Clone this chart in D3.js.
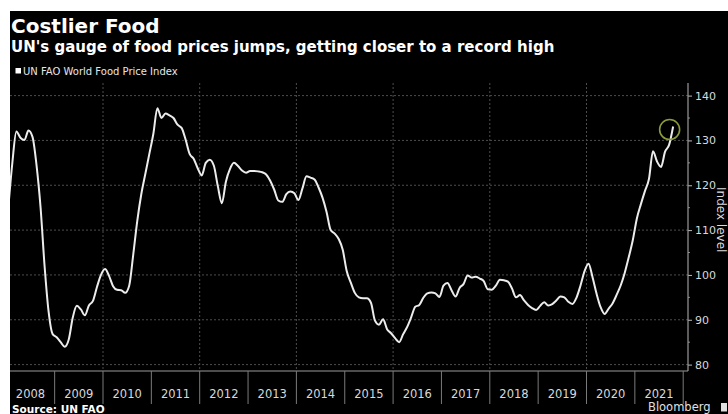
<!DOCTYPE html>
<html>
<head>
<meta charset="utf-8">
<script src="https://cdn.jsdelivr.net/npm/d3@7"></script>
<style>
  html, body { margin: 0; padding: 0; background: #fff; }
  svg { display: block; }
</style>
</head>
<body>
<svg id="chart" width="728" height="414"></svg>
<script>
// FAO Food Price Index, monthly values (2014-2016 = 100)
const fpi2008 = [115.0, 125.0, 132.0, 130.6, 130.1, 132.2, 130.8, 124.5, 115.1, 102.0, 91.8, 86.8];
const fpi2009 = [86.1, 85.0, 84.0, 85.6, 90.5, 93.1, 92.3, 91.0, 93.2, 94.2, 97.3, 100.0];
const fpi2010 = [101.3, 99.8, 97.5, 96.7, 96.6, 96.0, 97.6, 104.5, 112.0, 118.0, 122.5, 127.0];
const fpi2011 = [131.5, 137.2, 135.0, 136.0, 135.6, 135.0, 133.5, 132.8, 130.2, 127.0, 125.9, 123.8];
const fpi2012 = [122.2, 125.0, 125.7, 124.4, 119.8, 116.0, 120.8, 123.6, 125.0, 124.3, 123.3, 122.8];
const fpi2013 = [123.2, 123.2, 123.1, 122.9, 122.4, 121.0, 119.0, 116.6, 116.3, 118.0, 118.6, 118.2];
const fpi2014 = [116.7, 119.3, 122.0, 121.7, 121.3, 119.5, 117.2, 114.0, 110.0, 109.2, 108.0, 105.6];
const fpi2015 = [100.8, 98.3, 96.0, 95.0, 94.8, 94.8, 93.8, 89.8, 88.9, 90.1, 87.9, 87.0];
const fpi2016 = [85.9, 85.0, 86.8, 88.4, 90.6, 92.9, 93.3, 94.9, 95.9, 96.1, 95.9, 95.1];
const fpi2017 = [97.6, 98.2, 96.6, 95.2, 97.1, 98.0, 99.9, 99.4, 99.6, 99.2, 98.6, 96.8];
const fpi2018 = [96.7, 97.6, 98.9, 98.8, 98.5, 97.0, 95.0, 95.5, 94.3, 93.3, 92.6, 92.2];
const fpi2019 = [93.1, 93.9, 93.2, 93.5, 94.3, 95.2, 95.0, 94.0, 93.5, 94.9, 97.6, 100.8];
const fpi2020 = [102.5, 99.5, 95.8, 92.8, 91.3, 92.5, 93.7, 95.6, 97.7, 100.5, 104.0, 107.8];
const fpi2021 = [112.6, 115.8, 118.7, 121.4, 127.6, 125.3, 124.1, 127.5, 129.0, 133.1];

const seriesByYear = [fpi2008, fpi2009, fpi2010, fpi2011, fpi2012, fpi2013, fpi2014,
                      fpi2015, fpi2016, fpi2017, fpi2018, fpi2019, fpi2020, fpi2021];
const firstYear = 2008;

const yearLabels = ['2008', '2009', '2010', '2011', '2012', '2013', '2014',
                    '2015', '2016', '2017', '2018', '2019', '2020', '2021'];
const yTicks = [80, 90, 100, 110, 120, 130, 140];
const yMinorTicks = [85, 95, 105, 115, 125, 135];
const gridYears = [2010, 2012, 2014, 2016, 2018, 2020];

const titleText = 'Costlier Food';
const subtitleText = "UN's gauge of food prices jumps, getting closer to a record high";
const legendText = 'UN FAO World Food Price Index';
const axisTitle = 'Index level';
const sourceText = 'Source: UN FAO';
const brandText = 'Bloomberg';

// monthly points, placed mid-month on a fractional-year axis
const points = [];
seriesByYear.forEach((vals, yi) => {
  vals.forEach((v, m) => points.push({ t: firstYear + yi + (m + 0.5) / 12, v }));
});

const svg = d3.select('#chart');
const W = 728, H = 414;
const panel = { left: 10, top: 11 };
const plot = { left: 10, right: 688, top: 83, bottom: 371 };

const x = d3.scaleLinear().domain([2008, 2022]).range([6.3, 683.2]);
const y = d3.scaleLinear().domain([80, 140]).range([364.6, 95.6]);

const sans = "'DejaVu Sans', Verdana, sans-serif";

// black panel
svg.append('rect')
  .attr('x', panel.left).attr('y', panel.top)
  .attr('width', W - panel.left).attr('height', H - panel.top)
  .attr('fill', '#000');

svg.append('defs').append('clipPath').attr('id', 'plotClip')
  .append('rect')
  .attr('x', plot.left).attr('y', plot.top - 20)
  .attr('width', plot.right - plot.left).attr('height', plot.bottom - plot.top + 20);

// titles
svg.append('text')
  .attr('x', 11).attr('y', 33)
  .attr('fill', '#fff')
  .style('font-family', sans).style('font-weight', 'bold').style('font-size', '20px')
  .text(titleText);

svg.append('text')
  .attr('x', 11).attr('y', 51.5)
  .attr('fill', '#fff')
  .style('font-family', sans).style('font-weight', 'bold').style('font-size', '15px')
  .text(subtitleText);

// legend
svg.append('rect')
  .attr('x', 15.5).attr('y', 68).attr('width', 5.5).attr('height', 5.5)
  .attr('fill', '#fff');
svg.append('text')
  .attr('x', 23).attr('y', 75)
  .attr('fill', '#e6e6e6')
  .style('font-family', sans).style('font-size', '10px')
  .text(legendText);

// horizontal gridlines
svg.append('g').selectAll('line').data(yTicks).join('line')
  .attr('x1', plot.left).attr('x2', plot.right)
  .attr('y1', d => y(d)).attr('y2', d => y(d))
  .attr('stroke', '#4d4d4d').attr('stroke-width', 1)
  .attr('stroke-dasharray', '2,2');

// vertical gridlines every two years
svg.append('g').selectAll('line').data(gridYears).join('line')
  .attr('x1', d => x(d)).attr('x2', d => x(d))
  .attr('y1', plot.top).attr('y2', plot.bottom)
  .attr('stroke', '#4d4d4d').attr('stroke-width', 1)
  .attr('stroke-dasharray', '2,2');

// right value axis
const yAxis = d3.axisRight(y).tickValues(yTicks).tickSize(4).tickPadding(3)
  .tickFormat(d3.format('d'));
const yAxisG = svg.append('g')
  .attr('transform', `translate(${plot.right},0)`)
  .call(yAxis);
yAxisG.select('.domain').remove();
yAxisG.selectAll('.tick line').attr('stroke', '#bbb');
yAxisG.selectAll('.tick text')
  .attr('fill', '#d9d9d9')
  .style('font-family', sans).style('font-size', '11px');

svg.append('g').selectAll('line').data(yMinorTicks).join('line')
  .attr('x1', plot.right).attr('x2', plot.right + 2)
  .attr('y1', d => y(d)).attr('y2', d => y(d))
  .attr('stroke', '#888');

svg.append('line')
  .attr('x1', plot.right).attr('x2', plot.right)
  .attr('y1', plot.top).attr('y2', plot.bottom)
  .attr('stroke', '#9a9a9a').attr('stroke-width', 1.2);

svg.append('text')
  .attr('transform', `translate(716.5,187) rotate(90)`)
  .attr('fill', '#d9d9d9')
  .style('font-family', sans).style('font-size', '12px')
  .text(axisTitle);

// bottom time axis
svg.append('line')
  .attr('x1', plot.left).attr('x2', plot.right)
  .attr('y1', plot.bottom).attr('y2', plot.bottom)
  .attr('stroke', '#9a9a9a').attr('stroke-width', 1.2);

const yearStarts = yearLabels.map(s => +s + 1);
svg.append('g').selectAll('line').data(yearStarts).join('line')
  .attr('x1', d => x(d)).attr('x2', d => x(d))
  .attr('y1', plot.bottom).attr('y2', 404)
  .attr('stroke', '#7a7a7a').attr('stroke-width', 1);

svg.append('g').selectAll('text').data(yearLabels).join('text')
  .attr('x', d => x(+d + 0.5)).attr('y', 397.5)
  .attr('text-anchor', 'middle')
  .attr('fill', '#d9d9d9')
  .style('font-family', sans).style('font-size', '11.5px')
  .text(d => d);

// the index line
const line = d3.line()
  .x(d => x(d.t)).y(d => y(d.v))
  .curve(d3.curveMonotoneX);

svg.append('path')
  .datum(points)
  .attr('clip-path', 'url(#plotClip)')
  .attr('d', line)
  .attr('fill', 'none')
  .attr('stroke', '#ececec')
  .attr('stroke-width', 2)
  .attr('stroke-linejoin', 'round');

// highlight ring around the latest reading
const last = points[points.length - 1];
svg.append('circle')
  .attr('cx', x(last.t) - 3.5).attr('cy', y(last.v) + 3)
  .attr('r', 10)
  .attr('fill', 'none')
  .attr('stroke', '#8c9c3a')
  .attr('stroke-width', 1.6);

// footer
svg.append('text')
  .attr('x', 12).attr('y', 413)
  .attr('fill', '#fff')
  .style('font-family', sans).style('font-weight', 'bold').style('font-size', '10.5px')
  .text(sourceText);

svg.append('text')
  .attr('x', 648).attr('y', 411.3)
  .attr('fill', '#e0e0e0')
  .style('font-family', sans).style('font-size', '11.5px')
  .text(brandText);
svg.append('rect')
  .attr('x', 721).attr('y', 403).attr('width', 6).attr('height', 8.5)
  .attr('fill', '#e0e0e0');
</script>
</body>
</html>
